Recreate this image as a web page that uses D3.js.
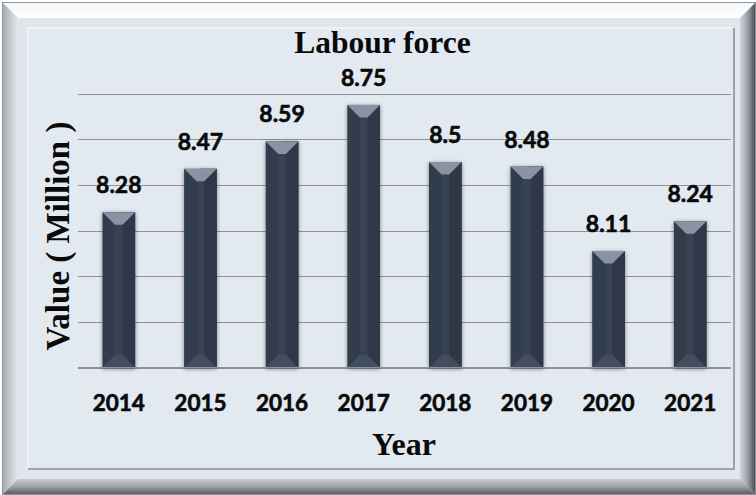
<!DOCTYPE html>
<html><head><meta charset="utf-8">
<script src="https://cdn.jsdelivr.net/npm/d3@7"></script>
<style>body{margin:0;background:#fff}svg{display:block}</style>
</head><body>
<svg id="c" width="756" height="495"></svg>
<script>
const years = ["2014","2015","2016","2017","2018","2019","2020","2021"];
const values = [8.28, 8.47, 8.59, 8.75, 8.5, 8.48, 8.11, 8.24];
const gridTicks = [7.6, 7.8, 8.0, 8.2, 8.4, 8.6, 8.8];
const titleText = "Labour force";
const xTitle = "Year";
const yTitle = "Value ( Million )";

(function(){
const svg = d3.select("#c");
const W = 756, H = 495;
const defs = svg.append("defs");
function lg(id, x1,y1,x2,y2, stops){
  const g = defs.append("linearGradient").attr("id",id).attr("x1",x1).attr("y1",y1).attr("x2",x2).attr("y2",y2);
  stops.forEach(s=>g.append("stop").attr("offset",s[0]).attr("stop-color",s[1]));
}
lg("gTop","0","0","0","1",[[0,"#f4f6f9"],[1,"#ffffff"]]);
lg("gLeft","0","0","1","0",[[0,"#a9aeb6"],[1,"#e4e8ee"]]);
lg("gRight","0","0","1","0",[[0,"#d2d6dc"],[0.5,"#9ca1a9"],[1,"#4d5259"]]);
lg("gBot","0","0","0","1",[[0,"#c8ccd3"],[0.5,"#9ea3aa"],[1,"#5a5f66"]]);
const sh = defs.append("filter").attr("id","sh").attr("x","-30%").attr("y","-10%").attr("width","160%").attr("height","120%");
sh.append("feGaussianBlur").attr("in","SourceAlpha").attr("stdDeviation",2.2).attr("result","b");
sh.append("feOffset").attr("in","b").attr("dx",0).attr("dy",1).attr("result","o");
sh.append("feComponentTransfer").attr("in","o").attr("result","o2").append("feFuncA").attr("type","linear").attr("slope",0.45);
const m = sh.append("feMerge"); m.append("feMergeNode").attr("in","o2"); m.append("feMergeNode").attr("in","SourceGraphic");

// frame
svg.append("rect").attr("x",0).attr("y",0).attr("width",W).attr("height",H).attr("fill","#ffffff");
svg.append("rect").attr("x",2).attr("y",2).attr("width",W-2).attr("height",H-2).attr("fill","#e1e6ed");
const o = 3, b = 15, R = 755, B = 494;
svg.append("polygon").attr("points",`${o},${o} ${R},${o} ${R-b},${o+b} ${o+b},${o+b}`).attr("fill","url(#gTop)");
svg.append("polygon").attr("points",`${o},${o} ${o+b},${o+b} ${o+b},${B-b} ${o},${B}`).attr("fill","url(#gLeft)");
svg.append("polygon").attr("points",`${R},${o} ${R},${B} ${R-b},${B-b} ${R-b},${o+b}`).attr("fill","url(#gRight)");
svg.append("polygon").attr("points",`${o},${B} ${R},${B} ${R-b},${B-b} ${o+b},${B-b}`).attr("fill","url(#gBot)");
svg.append("rect").attr("x",2.5).attr("y",2.5).attr("width",W-3).attr("height",H-3).attr("fill","none").attr("stroke","#8f949b").attr("stroke-width",1);
// inner panel
svg.append("rect").attr("x",28).attr("y",28).attr("width",706).attr("height",441).attr("fill","#e3e9f1")
  .attr("stroke","#f3f6fa").attr("stroke-width",1.5);
svg.append("path").attr("d","M734,28 L734,469 L28,469").attr("fill","none").attr("stroke","#9ea3aa").attr("stroke-width",2);

// scales
const L = 78, Rt = 731, yTop = 93.5, yBot = 367.5;
const x = d3.scaleBand().domain(years).range([L,Rt]).paddingInner(0.6).paddingOuter(0.3);
const y = d3.scaleLinear().domain([7.6,8.8]).range([yBot,yTop]);

// gridlines
svg.append("g").selectAll("line").data(gridTicks).join("line")
  .attr("x1",L).attr("x2",Rt).attr("y1",d=>Math.round(y(d))+0.5).attr("y2",d=>Math.round(y(d))+0.5)
  .attr("stroke","#8e9298").attr("stroke-width",1.2);

// bars
const bw = x.bandwidth();
const bars = svg.append("g").selectAll("g").data(years.map((k,i)=>({k,v:values[i]}))).join("g");
bars.each(function(d){
  const g = d3.select(this);
  const x0 = x(d.k), x1 = x0+bw, t = y(d.v), bt = y(7.6);
  const bv = Math.min(12.5, bw/2-3.5);
  const inner = g.append("g").attr("filter","url(#sh)");
  inner.append("rect").attr("x",x0).attr("y",t).attr("width",bw).attr("height",bt-t).attr("fill","#323c4c");
  inner.append("polygon").attr("points",`${x0+bw/2},${t} ${x1},${t} ${x1},${bt} ${x0+bw/2},${bt}`).attr("fill","#2f3949");
  inner.append("rect").attr("x",x0+bv).attr("y",t+bv).attr("width",bw-2*bv).attr("height",Math.max(0,bt-t-2*bv)).attr("fill","#374252");
  inner.append("polygon").attr("points",`${x0},${t} ${x1},${t} ${x1-bv},${t+bv} ${x0+bv},${t+bv}`).attr("fill","#8993a4");
  inner.append("polygon").attr("points",`${x0},${bt} ${x1},${bt} ${x1-bv},${bt-bv} ${x0+bv},${bt-bv}`).attr("fill","#434d5d");
});

// baseline
svg.append("line").attr("x1",L).attr("x2",Rt).attr("y1",yBot).attr("y2",yBot).attr("stroke","#8e9298").attr("stroke-width",1.2);

// data labels
svg.append("g").selectAll("text").data(years.map((k,i)=>({k,v:values[i]}))).join("text")
  .attr("x",d=>x(d.k)+bw/2).attr("y",d=>y(d.v)-19)
  .attr("text-anchor","middle").attr("font-family","Lato, 'Open Sans', sans-serif").attr("font-weight","bold")
  .attr("font-size",23).attr("fill","#0a0a0a").attr("stroke","#0a0a0a").attr("stroke-width",0.6).text(d=>d.v);

// x tick labels
const xAxis = svg.append("g").attr("transform",`translate(0,${yBot})`).call(d3.axisBottom(x).tickSize(0).tickPadding(43));
xAxis.select(".domain").remove();
xAxis.selectAll("text").attr("font-family","Lato, 'Open Sans', sans-serif").attr("font-weight","bold").attr("font-size",22.5)
  .attr("fill","#0a0a0a").attr("stroke","#0a0a0a").attr("stroke-width",0.6).attr("dy",0);

// titles
svg.append("text").attr("x",382.5).attr("y",53).attr("text-anchor","middle")
  .attr("font-family","'Liberation Serif', 'Times New Roman', serif").attr("font-weight","bold").attr("font-size",31.5).attr("fill","#0a0a0a").text(titleText);
svg.append("text").attr("x",404).attr("y",455).attr("text-anchor","middle")
  .attr("font-family","'Liberation Serif', 'Times New Roman', serif").attr("font-weight","bold").attr("font-size",32).attr("fill","#0a0a0a").text(xTitle);
svg.append("text").attr("transform","translate(69,236) rotate(-90)").attr("text-anchor","middle")
  .attr("font-family","'Liberation Serif', 'Times New Roman', serif").attr("font-weight","bold").attr("font-size",33).attr("fill","#0a0a0a").text(yTitle);
})();
</script>
</body></html>
